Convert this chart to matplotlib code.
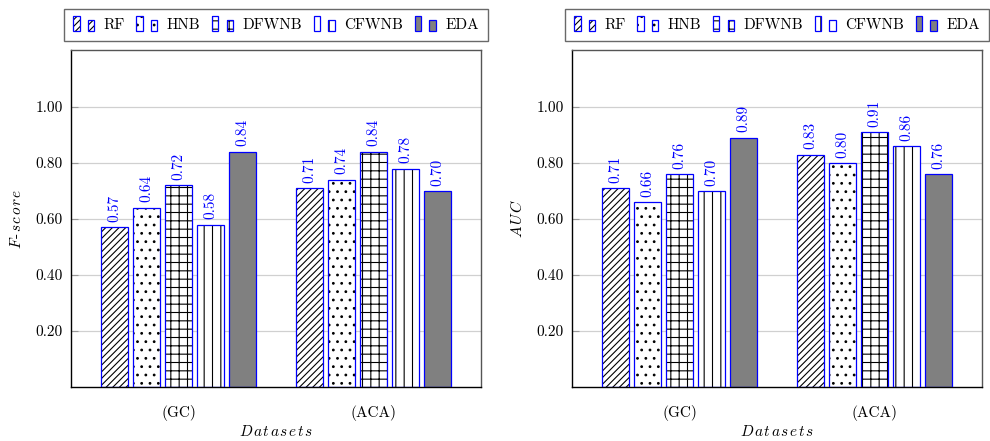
import matplotlib
matplotlib.use("Agg")
from matplotlib import pyplot as plt
from matplotlib.patches import Rectangle
from matplotlib.legend_handler import HandlerBase
import numpy as np

# data
datasets = ["(GC)", "(ACA)"]
methods = ["RF", "HNB", "DFWNB", "CFWNB", "EDA"]
fscore = {
    "RF": [0.57, 0.71],
    "HNB": [0.64, 0.74],
    "DFWNB": [0.72, 0.84],
    "CFWNB": [0.58, 0.78],
    "EDA": [0.84, 0.70],
}
auc = {
    "RF": [0.71, 0.83],
    "HNB": [0.66, 0.80],
    "DFWNB": [0.76, 0.91],
    "CFWNB": [0.70, 0.86],
    "EDA": [0.89, 0.76],
}
yticks = [0.2, 0.4, 0.6, 0.8, 1.0]

hatches = {"RF": "/////", "HNB": "..", "DFWNB": "++", "CFWNB": "||", "EDA": None}
fills = {"RF": "white", "HNB": "white", "DFWNB": "white", "CFWNB": "white", "EDA": "#808080"}

plt.rcParams["font.family"] = "serif"
plt.rcParams["font.serif"] = ["cmr10", "DejaVu Serif"]
plt.rcParams["mathtext.fontset"] = "cm"
plt.rcParams["axes.formatter.use_mathtext"] = True
plt.rcParams["hatch.linewidth"] = 0.8
plt.rcParams["hatch.color"] = "black"

BLUE = "#0000ff"
FS = 11
step = 0.164
width = 0.138


def spaced(word):
    # latex-like wide math italic
    return "$" + r"\hspace{0.12}".join(word) + "$"


class TwoBars(HandlerBase):
    # pgfplots style legend image: two little bars
    def create_artists(self, legend, orig, xd, yd, w, h, fontsize, trans):
        m = orig.get_label()
        out = []
        for x0, hh in [(0.0, 1.45), (0.6, 1.0)]:
            r = Rectangle((x0 * w - xd, -yd - 0.2 * h), 0.26 * w, hh * h,
                          facecolor=fills[m], edgecolor="black", hatch=hatches[m],
                          lw=0, transform=trans)
            r2 = Rectangle((x0 * w - xd, -yd - 0.2 * h), 0.26 * w, hh * h,
                           fill=False, edgecolor=BLUE, lw=0.9, transform=trans)
            out += [r, r2]
        return out


def draw(ax, values, ylabel):
    x = np.arange(len(datasets))
    handles = []
    for i, m in enumerate(methods):
        pos = x + (i - 2) * step
        ax.bar(pos, values[m], width, color=fills[m], edgecolor="black",
               hatch=hatches[m], lw=0, zorder=2)
        ax.bar(pos, values[m], width, fill=False, edgecolor=BLUE, lw=0.9, zorder=3)
        for px, v in zip(pos, values[m]):
            ax.annotate(f"{v:.2f}", (px, v), xytext=(0, 4), textcoords="offset points",
                        rotation=90, ha="center", va="bottom", color=BLUE, fontsize=FS)
        handles.append(Rectangle((0, 0), 1, 1, label=m))

    ax.set_xlim(-0.553, 1.553)
    ax.set_ylim(0, 1.204)
    ax.set_xticks(x)
    ax.set_xticklabels(datasets, fontsize=FS)
    ax.set_yticks(yticks)
    ax.set_yticklabels([f"{t:.2f}" for t in yticks], fontsize=FS)
    ax.tick_params(axis="x", length=0, pad=13)
    ax.tick_params(axis="y", direction="in", length=5, color="#999999", pad=6)
    ax.yaxis.grid(True, color="#d0d0d0", lw=0.9, zorder=0)
    ax.set_axisbelow(True)
    ax.set_xlabel(spaced("Datasets"), fontsize=FS, labelpad=2)
    ax.set_ylabel(ylabel, fontsize=FS, labelpad=8)
    for s in ["top", "right"]:
        ax.spines[s].set_color("#555555")
    for s in ax.spines.values():
        s.set_linewidth(1.0)

    leg = ax.legend(handles=handles, handler_map={Rectangle: TwoBars()},
                    loc="lower center", bbox_to_anchor=(0.5, 1.003), ncol=5,
                    frameon=True, fancybox=False, edgecolor="#444444",
                    fontsize=FS, handlelength=1.6, handletextpad=0.4,
                    columnspacing=0.75, borderpad=0.62)
    leg.get_frame().set_linewidth(1.0)


fig = plt.figure(figsize=(9.9, 4.41), dpi=100)
ax1 = fig.add_axes([71 / 990, 54 / 441, 410 / 990, 337 / 441])
ax2 = fig.add_axes([572 / 990, 54 / 441, 410 / 990, 337 / 441])

draw(ax1, fscore, r"$F\hspace{0.08}\text{-}\hspace{0.08}" + spaced("score")[1:])
draw(ax2, auc, spaced("AUC"))

fig.savefig("out.png", dpi=100)
